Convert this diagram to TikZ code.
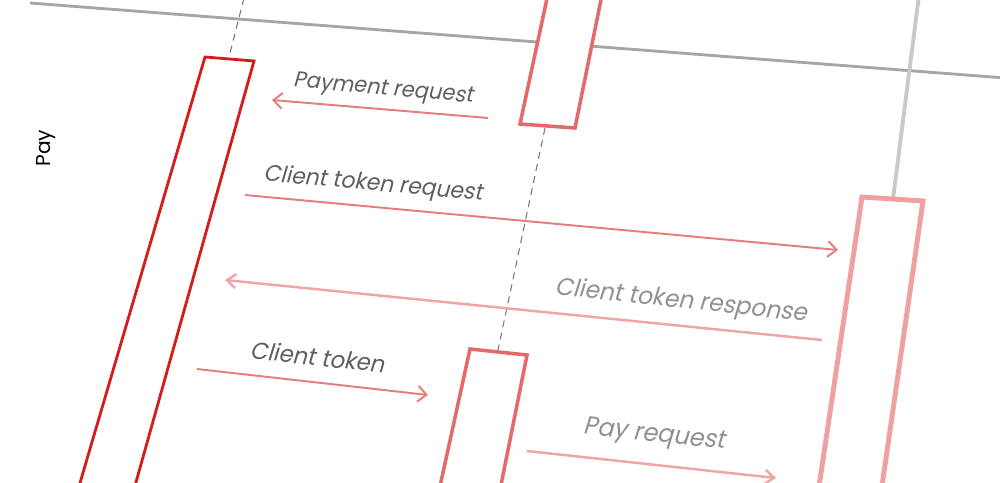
\documentclass[tikz,border=0pt]{standalone}
\usepackage{fontspec}
\setmainfont{Poppins}
\usetikzlibrary{arrows.meta}
\definecolor{boxdark}{RGB}{212,28,28}
\definecolor{boxlight}{RGB}{228,105,105}
\definecolor{boxpale}{RGB}{240,160,160}
\definecolor{arrowred}{RGB}{230,125,125}
\definecolor{arrowpale}{RGB}{240,165,165}
\definecolor{linegray}{RGB}{165,165,165}
\definecolor{lifegray}{RGB}{120,120,120}
\definecolor{txtgray}{RGB}{95,95,95}
\definecolor{txtpale}{RGB}{145,145,145}
\begin{document}
\begin{tikzpicture}[x=0.02cm,y=-0.02cm,
  msg/.style={draw=arrowred, line width=1.1pt, -{Straight Barb[length=5pt,width=9pt,line width=1.1pt]}},
  msgpale/.style={draw=arrowpale, line width=1.4pt, -{Straight Barb[length=5pt,width=8pt,line width=1.4pt]}},
  lbl/.style={text=txtgray, inner sep=0pt, xslant=0.2},
  lblpale/.style={text=txtpale, inner sep=0pt, xslant=0.2},
  actdark/.style={draw=boxdark, fill=white, line width=1.6pt, line join=miter},
  actlight/.style={draw=boxlight, fill=white, line width=2pt},
  actpale/.style={draw=boxpale, fill=white, line width=2.8pt},
  lifeline/.style={draw=lifegray, dashed, dash pattern=on 4pt off 3pt, line width=0.6pt},
  headline/.style={draw=linegray, line width=1.6pt}]
\useasboundingbox (0,0) rectangle (1000,483);
\fill[white] (0,0) rectangle (1000,483);
\clip (0,0) rectangle (1000,483);

% header line
\coordinate (hl) at (30,3);
\coordinate (hr) at (1005,78);
\draw[headline] (hl) -- (hr);

% lifelines
\coordinate (l1top) at (244,-2);
\coordinate (l1bot) at (229,57);
\draw[lifeline] (l1top) -- (l1bot);
\coordinate (l2top) at (545,128);
\coordinate (l2bot) at (498,350);
\draw[lifeline] (l2top) -- (l2bot);
\coordinate (l3top) at (919,-5);
\coordinate (l3bot) at (893,199);
\draw[draw=linegray!60, line width=2.2pt] (l3top) -- (l3bot);

% activation boxes
\draw[actdark] (205,57) coordinate (a1tl) -- (254,61) coordinate (a1tr) -- (131,500) coordinate (a1br) -- (75,500) coordinate (a1bl) -- cycle;
\draw[actlight] (520,124) coordinate (a2bl) -- (575,128) coordinate (a2br) -- (605,-20) coordinate (a2tr) -- (551,-20) coordinate (a2tl) -- cycle;
\draw[actlight] (470,349) coordinate (a3tl) -- (527,355) coordinate (a3tr) -- (498,500) coordinate (a3br) -- (437,500) coordinate (a3bl) -- cycle;
\draw[actpale] (862,197) coordinate (a4tl) -- (923,201) coordinate (a4tr) -- (880,500) coordinate (a4br) -- (817,500) coordinate (a4bl) -- cycle;

% messages
\coordinate (m1s) at (488,118); \coordinate (m1e) at (272,100);
\draw[msg] (m1s) -- (m1e);
\coordinate (m2s) at (245,195); \coordinate (m2e) at (838,250);
\draw[msg] (m2s) -- (m2e);
\coordinate (m3s) at (822,340); \coordinate (m3e) at (225,280);
\draw[msgpale] (m3s) -- (m3e);
\coordinate (m4s) at (197,369); \coordinate (m4e) at (428,395);
\draw[msg] (m4s) -- (m4e);
\coordinate (m5s) at (527,451); \coordinate (m5e) at (776,478);
\draw[msgpale] (m5s) -- (m5e);

% labels
\node[lbl, rotate=-5, font=\fontsize{12.2}{14}\selectfont] (t1) at (384,90) {Payment request};
\node[lbl, rotate=-5, font=\fontsize{12.7}{14}\selectfont] (t2) at (374,185) {Client token request};
\node[lblpale, rotate=-6, font=\fontsize{13.6}{15}\selectfont] (t3) at (682,302) {Client token response};
\node[lbl, rotate=-6, font=\fontsize{13.2}{15}\selectfont] (t4) at (319,357) {Client token};
\node[lblpale, rotate=-6, font=\fontsize{14}{16}\selectfont] (t5) at (655,436) {Pay request};
\node[text=black, rotate=90, inner sep=0pt, font=\fontsize{11.5}{13}\selectfont] (pay) at (46,148) {Pay};
\end{tikzpicture}
\end{document}
